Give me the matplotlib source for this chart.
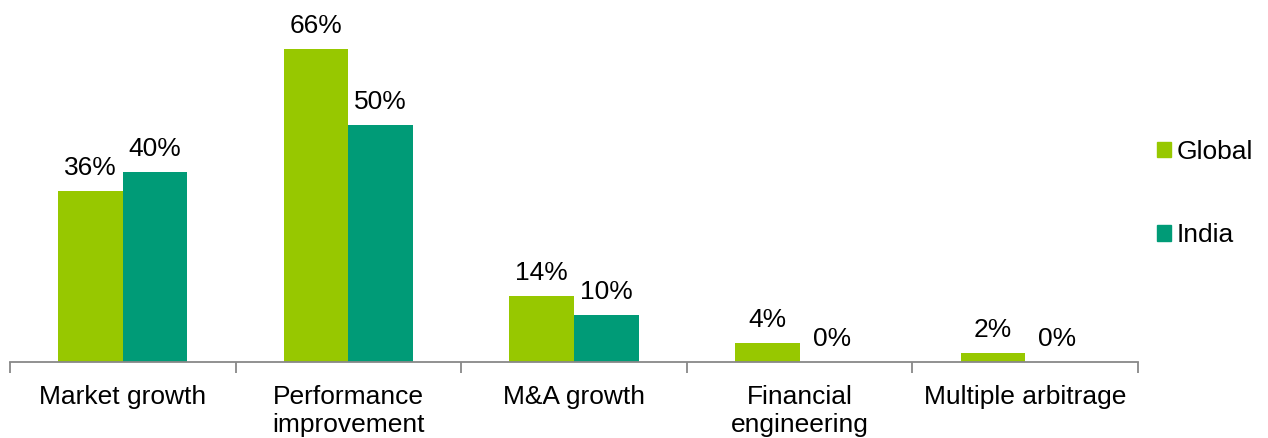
import matplotlib.pyplot as plt
from matplotlib.patches import Patch
import numpy as np

plt.rcParams['font.family'] = ['Liberation Sans', 'DejaVu Sans']

categories = ["Market growth", "Performance\nimprovement", "M&A growth",
              "Financial\nengineering", "Multiple arbitrage"]
global_vals = [36, 66, 14, 4, 2]
india_vals = [40, 50, 10, 0, 0]
series_names = ["Global", "India"]

GREEN = "#97C800"
TEAL = "#009B77"
FS = 19

fig = plt.figure(figsize=(12.68, 4.38), dpi=100)
ax = fig.add_axes([10 / 1268, (438 - 362) / 438, 1128 / 1268, 332.5 / 438])

x = np.arange(len(categories))
w = 0.286
b1 = ax.bar(x - w / 2, global_vals, w, color=GREEN, label=series_names[0])
b2 = ax.bar(x + w / 2, india_vals, w, color=TEAL, label=series_names[1])

for bars, vals in ((b1, global_vals), (b2, india_vals)):
    for rect, v in zip(bars, vals):
        ax.annotate(f"{v}%", (rect.get_x() + rect.get_width() / 2, v),
                    xytext=(0, 11.5), textcoords="offset points",
                    ha="center", va="baseline", fontsize=FS)

ax.set_xlim(-0.5, len(categories) - 0.5)
ax.set_ylim(0, 70)

for s in ("top", "right", "left"):
    ax.spines[s].set_visible(False)
ax.spines["bottom"].set_color("#888888")
ax.spines["bottom"].set_linewidth(1.3)
ax.set_yticks([])

ax.set_xticks(np.arange(len(categories) + 1) - 0.5)
ax.set_xticklabels([])
ax.tick_params(axis="x", which="major", length=8, width=1.3, color="#888888")
ax.set_xticks(x, minor=True)
ax.set_xticklabels(categories, minor=True, fontsize=FS, linespacing=1.22)
ax.tick_params(axis="x", which="minor", length=0, pad=16.5)

handles = [Patch(color=GREEN), Patch(color=TEAL)]
fig.legend(handles, series_names, loc="upper left",
           bbox_to_anchor=(1157 / 1268, 1 - 140 / 438), frameon=False,
           fontsize=FS, handlelength=0.53, handleheight=0.53,
           handletextpad=0.23, labelspacing=2.25,
           borderpad=0, borderaxespad=0)

fig.savefig("out.png", dpi=100)
